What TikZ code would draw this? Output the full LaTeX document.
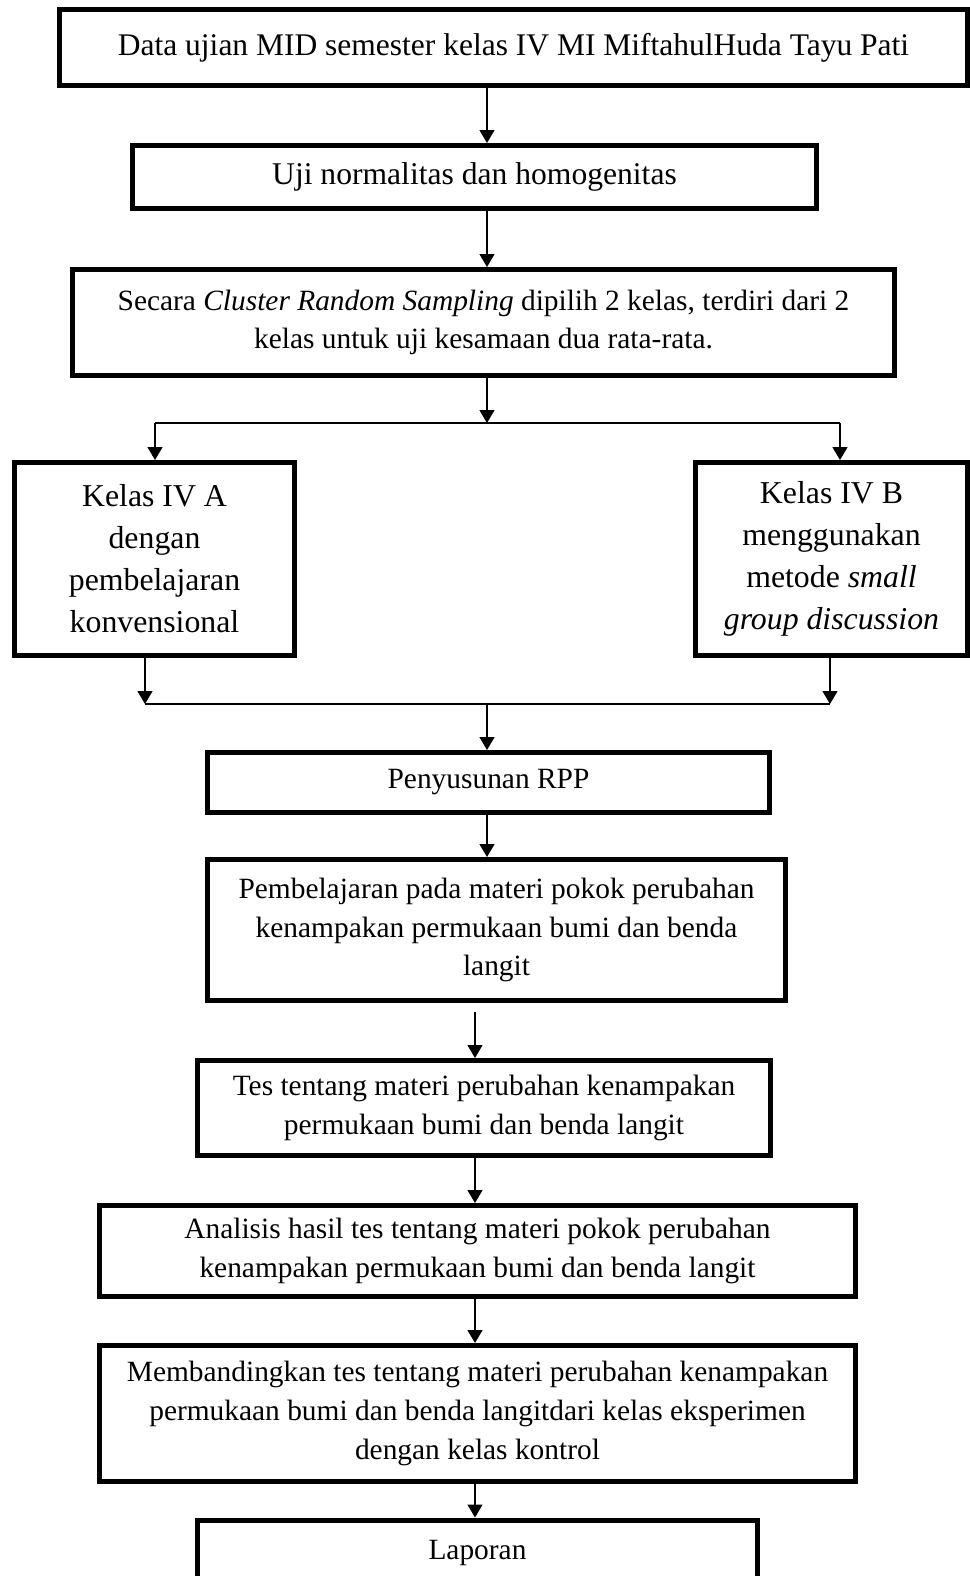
\documentclass[tikz,border=0pt]{standalone}
\usepackage{fontspec}
\setmainfont{Liberation Serif}
\usetikzlibrary{arrows.meta}

\tikzset{
     box/.style={draw, line width=2.5pt, inner sep=2pt, align=center, font=\fontsize{14.7}{19.3}\selectfont},
     bigbox/.style={box, font=\fontsize{15.8}{19.3}\selectfont},
     tallbox/.style={box, font=\fontsize{15.9}{21}\selectfont},
     arr/.style={-{Triangle[length=6.5pt, width=7.5pt]}, line width=0.7pt},
     link/.style={line width=0.7pt}
}

\begin{document}
\begin{tikzpicture}[x=0.5pt, y=-0.5pt]

     \useasboundingbox (0, 0) rectangle (970, 1576);

     \node (data) at (513.5, 47.5) [bigbox, font=\fontsize{15.75}{19.3}\selectfont, minimum width=454pt, minimum height=38pt] {Data ujian MID semester kelas IV MI MiftahulHuda Tayu Pati};
     \node (uji) at (474.5, 177) [bigbox, minimum width=342pt, minimum height=31.5pt] {Uji normalitas dan homogenitas};
     \node (cluster) at (483.5, 322.5) [box, minimum width=411pt, minimum height=53pt] {Secara \textit{Cluster Random Sampling} dipilih 2 kelas, terdiri dari 2\\ kelas untuk uji kesamaan dua rata-rata.};
     \node (kelasA) at (154.5, 559) [tallbox, minimum width=140pt, minimum height=96.5pt] {Kelas IV A\\ dengan\\ pembelajaran\\ konvensional};
     \node (kelasB) at (831.5, 559) [tallbox, minimum width=136pt, minimum height=96.5pt] {Kelas IV B\\ menggunakan\\ metode \textit{small}\\ \textit{group discussion}};
     \node (rpp) at (488.5, 782.5) [box, minimum width=281pt, minimum height=30pt] {Penyusunan RPP};
     \node (pemb) at (496.5, 930) [box, minimum width=289pt, minimum height=70.5pt] {Pembelajaran pada materi pokok perubahan\\ kenampakan permukaan bumi dan benda\\ langit};
     \node (tes) at (484, 1108) [box, minimum width=286.5pt, minimum height=47.5pt] {Tes tentang materi perubahan kenampakan\\ permukaan bumi dan benda langit};
     \node (analisis) at (477.5, 1251) [box, minimum width=378pt, minimum height=45.5pt] {Analisis hasil tes tentang materi pokok perubahan\\ kenampakan permukaan bumi dan benda langit};
     \node (banding) at (477.5, 1413.5) [box, minimum width=378pt, minimum height=68pt] {Membandingkan tes tentang materi perubahan kenampakan\\ permukaan bumi dan benda langitdari kelas eksperimen\\ dengan kelas kontrol};
     \node (laporan) at (477.5, 1552.5) [box, minimum width=280pt, minimum height=32.5pt] {Laporan};

     \coordinate (mid) at (487, 0);
     \coordinate (low) at (475, 0);
     \coordinate (split) at (487, 423);
     \coordinate (splitL) at (155, 423);
     \coordinate (splitR) at (840, 423);
     \coordinate (join) at (487, 704);
     \coordinate (joinL) at (145, 704);
     \coordinate (joinR) at (830, 704);
     \coordinate (gap) at (475, 1012);

     \draw [arr] (data.south -| mid) -- (uji.north -| mid);
     \draw [arr] (uji.south -| mid) -- (cluster.north -| mid);
     \draw [arr] (cluster.south -| mid) -- (split);
     \draw [link] (splitL) -- (splitR);
     \draw [arr] (splitL) -- (kelasA.north -| splitL);
     \draw [arr] (splitR) -- (kelasB.north -| splitR);

     \draw [arr] (kelasA.south -| joinL) -- (joinL);
     \draw [arr] (kelasB.south -| joinR) -- (joinR);
     \draw [link] (joinL) -- (joinR);
     \draw [arr] (join) -- (rpp.north -| join);

     \draw [arr] (rpp.south -| mid) -- (pemb.north -| mid);
     \draw [arr] (gap) -- (tes.north -| gap);
     \draw [arr] (tes.south -| low) -- (analisis.north -| low);
     \draw [arr] (analisis.south -| low) -- (banding.north -| low);
     \draw [arr] (banding.south -| low) -- (laporan.north -| low);

\end{tikzpicture}
\end{document}
